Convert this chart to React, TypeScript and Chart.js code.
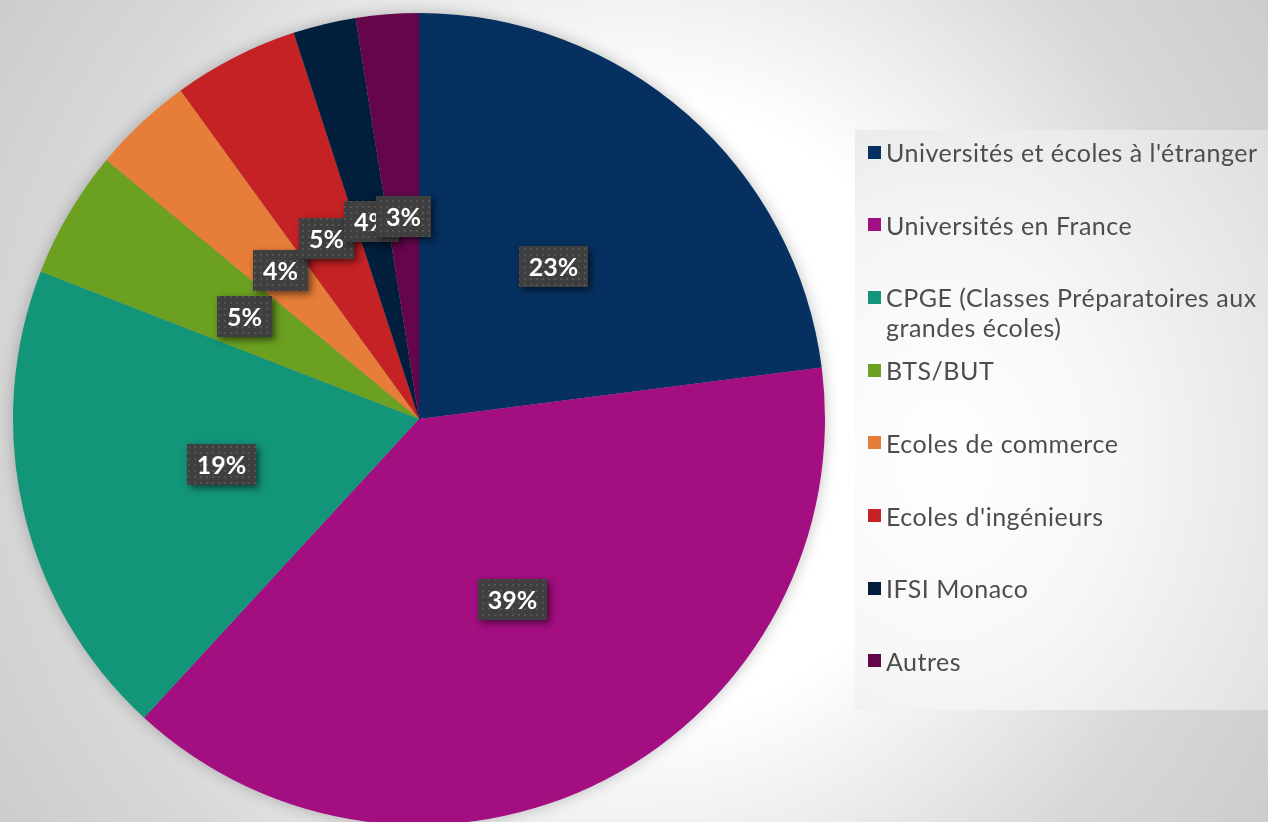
import React, { useEffect, useRef } from "react";
import { Chart, registerables } from "chart.js";

Chart.register(...registerables);

// ---- Data ----
const categories = [
  "Universités et écoles à l'étranger",
  "Universités en France",
  "CPGE (Classes Préparatoires aux grandes écoles)",
  "BTS/BUT",
  "Ecoles de commerce",
  "Ecoles d'ingénieurs",
  "IFSI Monaco",
  "Autres",
];
const shares = [23.0, 38.9, 19.1, 5.1, 4.0, 5.0, 2.5, 2.5];
const shareLabels = ["23%", "39%", "19%", "5%", "4%", "5%", "4%", "3%"];
const sliceColors = [
  "#06305f",
  "#a30e80",
  "#13957a",
  "#6ba021",
  "#e67d38",
  "#c42224",
  "#011e3c",
  "#65064a",
];

const LABEL_FONT = "bold 25px Lato";

// wrap long legend names the way the reference does (break at last space before ~32 chars)
function wrapName(name: string): string[] {
  if (name.length <= 34) return [name];
  const cut = name.lastIndexOf(" ", 32);
  return [name.slice(0, cut), name.slice(cut + 1)];
}

function makeDotPattern(ctx: CanvasRenderingContext2D) {
  const c = document.createElement("canvas");
  c.width = 6;
  c.height = 6;
  const g = c.getContext("2d")!;
  g.fillStyle = "#3f3f3f";
  g.fillRect(0, 0, 6, 6);
  g.fillStyle = "#545454";
  g.fillRect(2, 2, 2, 2);
  return ctx.createPattern(c, "repeat");
}

const haloPlugin = {
  id: "halo",
  beforeDatasetsDraw(chart: any) {
    const arc = chart.getDatasetMeta(0).data[0];
    if (!arc) return;
    const { x, y, outerRadius } = arc.getProps(["x", "y", "outerRadius"], true);
    const ctx = chart.ctx as CanvasRenderingContext2D;
    ctx.save();
    ctx.shadowColor = "rgba(0,0,0,0.28)";
    ctx.shadowBlur = 16;
    ctx.beginPath();
    ctx.arc(x, y, outerRadius - 1, 0, Math.PI * 2);
    ctx.fillStyle = "#999";
    ctx.fill();
    ctx.restore();
  },
};

const labelPlugin = {
  id: "pctLabels",
  afterDatasetsDraw(chart: any) {
    const ctx = chart.ctx as CanvasRenderingContext2D;
    const meta = chart.getDatasetMeta(0);
    const pattern = makeDotPattern(ctx);
    ctx.save();
    ctx.font = LABEL_FONT;
    meta.data.forEach((el: any, i: number) => {
      const { x, y, startAngle, endAngle, outerRadius } = el.getProps(
        ["x", "y", "startAngle", "endAngle", "outerRadius"],
        true
      );
      const mid = (startAngle + endAngle) / 2;
      const r = outerRadius * 0.5;
      const cx = x + Math.cos(mid) * r;
      const cy = y + Math.sin(mid) * r;
      const text = shareLabels[i];
      const tw = ctx.measureText(text).width;
      const w = Math.round(tw + 20);
      const h = 41;
      const bx = Math.round(cx - w / 2);
      const by = Math.round(cy - h / 2);
      ctx.save();
      ctx.shadowColor = "rgba(0,0,0,0.55)";
      ctx.shadowBlur = 7;
      ctx.shadowOffsetX = 3;
      ctx.shadowOffsetY = 3;
      ctx.fillStyle = "#3f3f3f";
      ctx.fillRect(bx, by, w, h);
      ctx.restore();
      if (pattern) {
        ctx.fillStyle = pattern;
        ctx.fillRect(bx, by, w, h);
      }
      ctx.fillStyle = "#ffffff";
      ctx.textAlign = "center";
      ctx.textBaseline = "middle";
      ctx.fillText(text, bx + w / 2, by + h / 2 + 1);
    });
    ctx.restore();
  },
};

function PieChart() {
  const ref = useRef<HTMLCanvasElement | null>(null);
  useEffect(() => {
    if (!ref.current) return;
    const chart = new Chart(ref.current, {
      type: "pie",
      data: {
        labels: categories,
        datasets: [
          {
            data: shares,
            backgroundColor: sliceColors,
            borderWidth: 0,
            hoverOffset: 0,
          },
        ],
      },
      options: {
        animation: false,
        responsive: false,
        events: [],
        layout: { padding: 13 },
        plugins: {
          legend: { display: false },
          tooltip: { enabled: false },
        },
      },
      plugins: [haloPlugin, labelPlugin],
    });
    return () => chart.destroy();
  }, []);
  return (
    <canvas
      ref={ref}
      width={838}
      height={838}
      style={{ position: "absolute", left: 0, top: 0, width: 838, height: 838 }}
    />
  );
}

function Legend() {
  return (
    <div
      style={{
        position: "absolute",
        left: 855,
        top: 130,
        width: 413,
        height: 580,
        background:
          "radial-gradient(ellipse 420px 520px at 90px 330px, #ffffff 0%, #f7f7f7 40%, #dedede 100%)",
        fontFamily: "Lato, sans-serif",
        fontSize: 25,
        letterSpacing: "0.5px",
        color: "#4d4d4d",
      }}
    >
      {categories.map((name, i) => (
        <div
          key={name}
          style={{
            position: "absolute",
            left: 0,
            top: i * 72.7,
            width: 413,
            height: 72.7,
          }}
        >
          <div
            style={{
              position: "absolute",
              left: 13,
              top: 15.5,
              width: 13,
              height: 13,
              background: sliceColors[i],
            }}
          />
          <div
            style={{
              position: "absolute",
              left: 31,
              top: 7,
              lineHeight: "30px",
              whiteSpace: "nowrap",
            }}
          >
            {wrapName(name).map((line, k) => (
              <div key={k}>{line}</div>
            ))}
          </div>
        </div>
      ))}
    </div>
  );
}

export default function App() {
  return (
    <div
      style={{
        position: "fixed",
        left: 0,
        top: 0,
        width: 1268,
        height: 822,
        overflow: "hidden",
        background:
          "radial-gradient(circle at 634px 411px, #ffffff 0px, #ffffff 310px, #ececec 450px, #d8d8d8 590px, #cccccc 760px)",
      }}
    >
      <PieChart />
      <Legend />
    </div>
  );
}
